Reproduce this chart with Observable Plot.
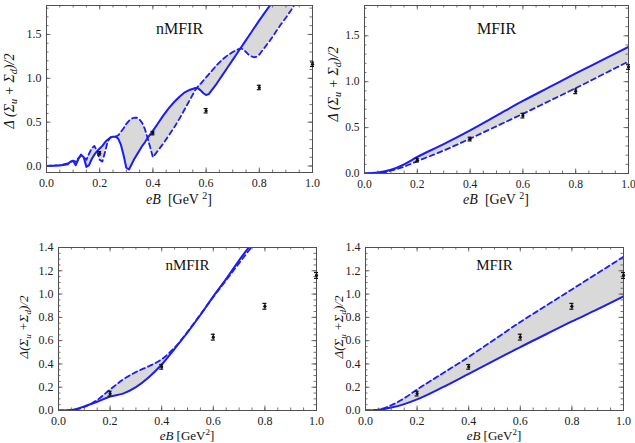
<!DOCTYPE html>
<html><head><meta charset="utf-8">
<script src="https://cdn.jsdelivr.net/npm/d3@7"></script>
<script src="https://cdn.jsdelivr.net/npm/@observablehq/plot@0.6"></script>
<style>
body{margin:0;background:#fff;}
#wrap{position:relative;width:635px;height:443px;overflow:hidden;}
#wrap svg{position:absolute;}
</style></head><body><div id="wrap"></div>
<script>
// ---------- data ----------
const pointsEB   = [0.2, 0.4, 0.6, 0.8, 1.0];
const pointsVal  = [0.145, 0.375, 0.63, 0.895, 1.16];
const pointsErr  = [0.02, 0.02, 0.025, 0.025, 0.025];

// panel 1: nMFIR (top)
const eB1 = [0,0.05,0.08,0.09,0.10,0.11,0.12,0.13,0.14,0.15,0.16,0.17,0.18,0.19,0.20,0.21,0.22,0.23,0.24,0.25,0.26,0.27,0.28,0.29,0.30,0.31,0.32,0.33,0.34,0.35,0.36,0.37,0.38,0.39,0.40,0.42,0.44,0.46,0.48,0.50,0.52,0.54,0.56,0.57,0.58,0.59,0.60,0.61,0.62,0.64,0.66,0.68,0.70,0.72,0.73,0.74,0.75,0.76,0.77,0.78,0.79,0.80,0.82,0.84,0.86,0.88,0.90,0.92,0.94];
const solid1 = [0,0.005,0.02,0.05,0.06,0.01,0.08,0.13,0.10,-0.01,0.01,0.08,0.13,0.17,0.20,0.23,0.27,0.30,0.325,0.335,0.335,0.31,0.24,0.12,-0.02,-0.04,0.02,0.08,0.13,0.18,0.23,0.27,0.32,0.36,0.40,0.49,0.58,0.66,0.73,0.79,0.84,0.87,0.89,0.885,0.86,0.83,0.81,0.82,0.86,0.94,1.03,1.12,1.21,1.30,1.345,1.39,1.435,1.48,1.525,1.57,1.615,1.66,1.745,1.83,1.92,2.01,2.10,2.19,2.28];
const dashed1 = [0,0.01,0.03,0.04,0.06,0.05,0.09,0.12,0.10,0.07,0.14,0.20,0.23,0.17,0.07,0.05,0.16,0.28,0.325,0.335,0.335,0.35,0.39,0.43,0.48,0.515,0.54,0.55,0.55,0.53,0.49,0.42,0.32,0.21,0.10,0.18,0.26,0.35,0.44,0.54,0.65,0.76,0.87,0.91,0.94,0.975,1.01,1.045,1.08,1.15,1.21,1.26,1.30,1.33,1.34,1.33,1.30,1.27,1.25,1.24,1.245,1.27,1.35,1.43,1.52,1.61,1.69,1.78,1.87];

// panel 2: MFIR (top)
const eB2 = [0,0.05,0.1,0.15,0.2,0.3,0.4,0.5,0.6,0.7,0.8,0.9,1.0];
const solid2 = [0,0.01,0.04,0.10,0.18,0.32,0.47,0.63,0.79,0.94,1.09,1.235,1.38];
const dashed2 = [0,0.005,0.03,0.075,0.135,0.25,0.38,0.515,0.65,0.79,0.93,1.075,1.22];

// panel 3: nMFIR (bottom)
const eB3 = [0,0.05,0.1,0.15,0.2,0.25,0.3,0.35,0.4,0.45,0.5,0.55,0.6,0.65,0.7,0.75,0.8];
const solid3 = [0,0.005,0.035,0.075,0.12,0.145,0.20,0.285,0.395,0.53,0.67,0.82,0.98,1.13,1.29,1.44,1.60];
const dashed3 = [0,0.003,0.03,0.09,0.18,0.265,0.33,0.38,0.44,0.54,0.675,0.825,0.975,1.12,1.265,1.41,1.56];

// panel 4: MFIR (bottom)
const eB4 = [0,0.05,0.1,0.15,0.2,0.3,0.4,0.5,0.6,0.7,0.8,0.9,1.0];
const solid4 = [0,0.005,0.025,0.055,0.095,0.20,0.315,0.43,0.545,0.655,0.765,0.87,0.98];
const dashed4 = [0,0.008,0.045,0.105,0.18,0.32,0.46,0.61,0.76,0.90,1.04,1.18,1.32];

const xTickVals = [0,0.2,0.4,0.6,0.8,1.0];
const yTickTop = [0,0.5,1.0,1.5];
const yTickBottom = [0,0.2,0.4,0.6,0.8,1.0,1.2,1.4];
const titles = ["nMFIR","MFIR","nMFIR","MFIR"];

// ---------- drawing ----------
const BLUE = "#1c1cf5", GRAY = "#d9d9d9", FRAME = "#505050", SERIF = "'Liberation Serif','Times New Roman',serif";
const wrap = document.getElementById("wrap");
const points = pointsEB.map((x,i)=>({x, y: pointsVal[i], e: pointsErr[i]}));
const range = (a,b,s)=>d3.range(Math.round(a/s),Math.round(b/s)+1).map(k=>+(k*s).toFixed(4));

function panel(c){
  const rows = c.eB.map((x,i)=>({x, s: c.solid[i], d: c.dashed[i]}));
  const innerW = c.width - c.ml - c.mr, innerH = c.height - c.mt - c.mb;
  const [x0,x1] = c.xDomain, [y0,y1] = c.yDomain;
  const ly = L => L*(y1-y0)/innerH, lx = L => L*(x1-x0)/innerW;
  const xMinor = range(0,1,0.05).filter(v=>v>=x0&&v<=x1);
  const yMinor = range(0,y1,c.yMinorStep).filter(v=>v>=y0&&v<=y1);
  const tk = {stroke: FRAME, strokeWidth: 0.8};
  const svg = Plot.plot({
    width: c.width, height: c.height,
    marginLeft: c.ml, marginRight: c.mr, marginTop: c.mt, marginBottom: c.mb,
    x: {domain: c.xDomain}, y: {domain: c.yDomain},
    style: {fontFamily: SERIF, fontSize: "12px", color: "#222", background: "transparent", overflow: "visible"},
    marks: [
      Plot.areaY(rows, {x: "x", y1: "s", y2: "d", fill: GRAY, curve: c.curve, clip: true}),
      Plot.lineY(rows, {x: "x", y: "d", stroke: BLUE, strokeWidth: 1.8, strokeDasharray: "5,3.5", curve: c.curve, clip: true}),
      Plot.lineY(rows, {x: "x", y: "s", stroke: BLUE, strokeWidth: 2, curve: c.curve, clip: true}),
      Plot.frame({stroke: FRAME, strokeWidth: 1}),
      // inward frame ticks
      Plot.ruleX(xTickVals, {x: d=>d, y1: y0, y2: y0+ly(4.5), ...tk}),
      Plot.ruleX(xTickVals, {x: d=>d, y1: y1, y2: y1-ly(4.5), ...tk}),
      Plot.ruleX(xMinor, {x: d=>d, y1: y0, y2: y0+ly(2.5), ...tk}),
      Plot.ruleX(xMinor, {x: d=>d, y1: y1, y2: y1-ly(2.5), ...tk}),
      Plot.ruleY(c.yTicks, {y: d=>d, x1: x0, x2: x0+lx(4.5), ...tk}),
      Plot.ruleY(c.yTicks, {y: d=>d, x1: x1, x2: x1-lx(4.5), ...tk}),
      Plot.ruleY(yMinor, {y: d=>d, x1: x0, x2: x0+lx(2.5), ...tk}),
      Plot.ruleY(yMinor, {y: d=>d, x1: x1, x2: x1-lx(2.5), ...tk}),
      Plot.axisX({ticks: xTickVals, tickSize: 0, tickPadding: 6, tickFormat: d3.format(".1f"), label: null, fontSize: c.tickFont}),
      Plot.axisY({ticks: c.yTicks, tickSize: 0, tickPadding: 5, tickFormat: d3.format(".1f"), label: null, fontSize: c.tickFont}),
      // data points with error bars
      Plot.ruleX(points, {x: "x", y1: d=>d.y-d.e, y2: d=>d.y+d.e, stroke: "#111", strokeWidth: 1.2}),
      Plot.ruleY(points, {y: d=>d.y+d.e, x1: d=>d.x-lx(2), x2: d=>d.x+lx(2), stroke: "#111", strokeWidth: 1.2}),
      Plot.ruleY(points, {y: d=>d.y-d.e, x1: d=>d.x-lx(2), x2: d=>d.x+lx(2), stroke: "#111", strokeWidth: 1.2}),
      Plot.dot(points, {x: "x", y: "y", r: 1.6, fill: "#111"}),
      Plot.text([c.title], {frameAnchor: "top", dy: c.titleDy, text: d=>d, fontSize: c.titleFont, fill: "#111"})
    ]
  });
  svg.style.left = c.left + "px";
  svg.style.top = c.top + "px";
  const s = d3.select(svg);
  // y label
  const yl = s.append("text").attr("transform", `translate(${c.ylx},${c.yly}) rotate(-90)`)
    .attr("text-anchor","middle").attr("fill","#111")
    .style("font-family", SERIF).style("font-style","italic").style("font-size", c.labelFont+"px");
  yl.append("tspan").text(c.compact ? "Δ(Σ" : "Δ (Σ");
  yl.append("tspan").attr("dy", 3).style("font-size", (c.labelFont-4)+"px").text("u");
  yl.append("tspan").attr("dy", -3).text(c.compact ? " +Σ" : " + Σ");
  yl.append("tspan").attr("dy", 3).style("font-size", (c.labelFont-4)+"px").text("d");
  yl.append("tspan").attr("dy", -3).text(")/2");
  // x label
  const xl = s.append("text").attr("x", c.ml + innerW/2).attr("y", c.xly)
    .attr("text-anchor","middle").attr("fill","#111")
    .style("font-family", SERIF).style("font-size", c.labelFont+"px");
  xl.append("tspan").style("font-style","italic").text("eB");
  xl.append("tspan").text(c.compact ? " [GeV" : "  [GeV ");
  xl.append("tspan").attr("dy", -5).style("font-size", (c.labelFont-4)+"px").text("2");
  xl.append("tspan").attr("dy", 5).text("]");
  wrap.appendChild(svg);
}

panel({left:0, top:0, width:318, height:210, ml:46, mr:6, mt:5, mb:38,
  eB: eB1, solid: solid1, dashed: dashed1, curve: "linear",
  xDomain:[0,1], yDomain:[-0.074,1.83], yTicks: yTickTop, yMinorStep: 0.1,
  title: titles[0], titleDy: 17, titleFont: 16, tickFont: 12, labelFont: 14,
  ylx: 14, yly: 91, xly: 204, compact: false});
panel({left:318, top:0, width:317, height:210, ml:46, mr:7, mt:5, mb:37,
  eB: eB2, solid: solid2, dashed: dashed2, curve: "monotone-x",
  xDomain:[0,1], yDomain:[0,1.83], yTicks: yTickTop, yMinorStep: 0.1,
  title: titles[1], titleDy: 17, titleFont: 16, tickFont: 11.5, labelFont: 14,
  ylx: 20, yly: 84, xly: 204, compact: false});
panel({left:0, top:220, width:318, height:223, ml:58, mr:2, mt:27, mb:33,
  eB: eB3, solid: solid3, dashed: dashed3, curve: "monotone-x",
  xDomain:[0,1], yDomain:[0,1.4], yTicks: yTickBottom, yMinorStep: 0.05,
  title: titles[2], titleDy: 12, titleFont: 15, tickFont: 12, labelFont: 13,
  ylx: 28, yly: 107, xly: 219.5, compact: true});
panel({left:318, top:220, width:317, height:223, ml:47, mr:12, mt:27, mb:33,
  eB: eB4, solid: solid4, dashed: dashed4, curve: "monotone-x",
  xDomain:[0,1], yDomain:[0,1.4], yTicks: yTickBottom, yMinorStep: 0.05,
  title: titles[3], titleDy: 12, titleFont: 15, tickFont: 12, labelFont: 13,
  ylx: 25, yly: 107, xly: 219.5, compact: true});
</script>
</body></html>
